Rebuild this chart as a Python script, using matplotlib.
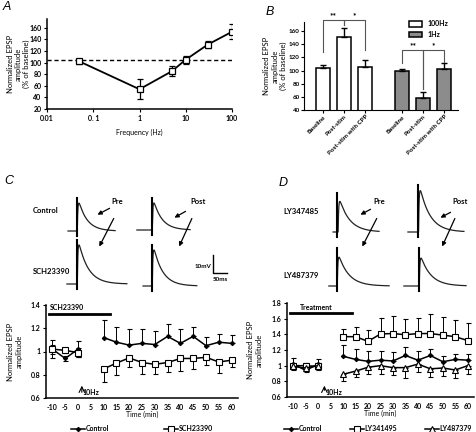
import numpy as np
import matplotlib as mpl
mpl.use("Agg")
import matplotlib.pyplot as plt  # noqa
from matplotlib.patches import FancyArrowPatch, Patch  # noqa
from matplotlib.lines import Line2D  # noqa

plt.rcParams['font.family'] = ['Lato', 'DejaVu Sans']
plt.rcParams['font.weight'] = 'bold'
plt.rcParams['axes.unicode_minus'] = False

# ---- panel A: frequency dependence
freq = [0.05, 1, 5, 10, 30, 100]
freq_mean = [102, 54, 85, 105, 131, 153]
freq_err = [4, 17, 9, 7, 6, 13]
baseline_level = 104

# ---- panel B: bars
bar_labels = ['Baseline', 'Post-stim', 'Post-stim with CPP']
hz100_mean = [104, 151, 105]
hz100_err = [5, 14, 11]
hz1_mean = [100, 59, 102]
hz1_err = [3, 9, 10]

# ---- panels C/D: time course
t_pre = [-10, -5, 0]
t_post = [10, 15, 20, 25, 30, 35, 40, 45, 50, 55, 60]
ctrl_pre = [1.02, 0.94, 1.02]
ctrl_pre_err = [0.075, 0.02, 0.07]
ctrl_post = [1.12, 1.08, 1.055, 1.07, 1.06, 1.13, 1.07, 1.13, 1.05, 1.08, 1.07]
ctrl_post_err = [0.15, 0.13, 0.135, 0.12, 0.115, 0.11, 0.12, 0.08, 0.075, 0.07, 0.075]
sch_pre = [1.02, 1.01, 0.99]
sch_pre_err = [0.04, 0.02, 0.04]
sch_post = [0.85, 0.90, 0.945, 0.905, 0.89, 0.905, 0.94, 0.94, 0.95, 0.91, 0.925]
sch_post_err = [0.11, 0.10, 0.08, 0.095, 0.085, 0.085, 0.105, 0.09, 0.07, 0.095, 0.055]
ly34_pre = [1.00, 1.00, 0.99]
ly34_pre_err = [0.03, 0.03, 0.03]
ly34_post = [1.37, 1.37, 1.31, 1.405, 1.41, 1.395, 1.41, 1.41, 1.39, 1.37, 1.32]
ly34_post_err = [0.10, 0.12, 0.15, 0.20, 0.22, 0.20, 0.20, 0.25, 0.23, 0.21, 0.23]
ly48_pre = [0.99, 0.97, 1.00]
ly48_pre_err = [0.03, 0.03, 0.03]
ly48_post = [0.89, 0.93, 0.98, 1.00, 0.975, 0.975, 1.02, 0.96, 0.97, 0.945, 1.00]
ly48_post_err = [0.08, 0.08, 0.09, 0.10, 0.10, 0.13, 0.10, 0.10, 0.10, 0.10, 0.10]

# ---- example traces (amplitude mV, decay ms, start ms, end ms)
trace_amp_C = [15.5, 15.0, 21.7, 20.0]
trace_tau_C = [30, 30, 34, 32]
trace_start_C = [-32, -54, -36, -32]
trace_end_C = [136, 136, 178, 160]
trace_amp_D = [17.0, 23.0, 16.0, 15.5]
trace_tau_D = [36, 36, 36, 36]
trace_start_D = [-14, -36, -29, -54]
trace_end_D = [150, 164, 186, 168]

W, H = 476, 432
fig = plt.figure(figsize=(W / 100, H / 100), dpi=100)


def box(x0, y0, x1, y1):
    return [x0 / W, 1 - y1 / H, (x1 - x0) / W, (y1 - y0) / H]


def fp(x, y):
    return (x / W, 1 - y / H)


def style(ax):
    for s in ['top', 'right']:
        ax.spines[s].set_visible(False)
    for s in ['left', 'bottom']:
        ax.spines[s].set_linewidth(1.1)
    ax.tick_params(labelsize=5, width=0.8, length=2.5, pad=1.5)


def panel_label(x, y, s):
    fig.text(*fp(x, y), s, fontsize=9, style='italic', family='Liberation Sans',
             fontweight='normal', ha='left', va='center')


# ---------- A
axA = fig.add_axes(box(47, 19, 232, 109))
style(axA)
axA.set_xscale('log')
axA.errorbar(freq, freq_mean, yerr=freq_err, color='k', lw=1.3, marker='s',
             ms=4, mfc='white', mec='k', mew=0.9, capsize=2, elinewidth=0.9)
axA.axhline(baseline_level, color='k', ls='--', lw=1.0, dashes=(3, 2))
axA.set_xlim(0.01, 100)
axA.set_ylim(20, 175)
axA.set_yticks(range(20, 161, 20))
axA.set_xticks([0.01, 0.1, 1, 10, 100])
axA.set_xticklabels(['0.01', '0. 1', '1', '10', '100'])
axA.minorticks_off()
axA.set_xlabel('Frequency (Hz)', fontsize=5, labelpad=5)
axA.set_ylabel('Normalized EPSP\namplitude\n(% of baseline)', fontsize=5.5)
axA.yaxis.set_label_coords(-0.09, 0.5)
panel_label(3, 7, 'A')

# ---------- B
axB = fig.add_axes(box(304, 22, 458, 110))
for s in ['top', 'right']:
    axB.spines[s].set_visible(False)
axB.tick_params(labelsize=4.5, width=0.8, length=2, pad=1)
pos100 = [0, 1, 2]
pos1 = [3.75, 4.75, 5.75]
axB.bar(pos100, hz100_mean, width=0.67, color='white', edgecolor='k', lw=1.1)
axB.errorbar(pos100, hz100_mean, yerr=[[0] * 3, hz100_err], fmt='none', ecolor='k',
             elinewidth=1.0, capsize=2.5, capthick=1.0)
axB.bar(pos1, hz1_mean, width=0.67, color='#8c8c8c', edgecolor='k', lw=1.1)
axB.errorbar(pos1, hz1_mean, yerr=[[0] * 3, hz1_err], fmt='none', ecolor='k',
             elinewidth=1.0, capsize=2.5, capthick=1.0)
axB.set_xlim(-0.9, 6.4)
axB.set_ylim(40, 174)
axB.set_yticks(range(40, 161, 20))
axB.set_xticks(pos100 + pos1)
axB.set_xticklabels(bar_labels * 2, rotation=45, ha='right', rotation_mode='anchor',
                    fontsize=4.5)
axB.set_ylabel('Normalized EPSP\namplitude\n(% of baseline)', fontsize=5.5)
axB.yaxis.set_label_coords(-0.11, 0.5)


def bracket(ax, x0, x1, y0, y1, top, txt):
    ax.plot([x0, x0, x1, x1], [y0, top, top, y1], color='#555555', lw=0.8, clip_on=False)
    ax.text((x0 + x1) / 2, top + 1, txt, ha='center', va='bottom', fontsize=6,
            clip_on=False)


bracket(axB, 0, 1, 128, 170, 177, '**')
bracket(axB, 1, 2, 170, 131, 177, '*')
bracket(axB, 3.75, 4.75, 111, 72, 131, '**')
bracket(axB, 4.75, 5.75, 72, 113, 131, '*')
axB.legend(handles=[Patch(facecolor='white', edgecolor='k', lw=1.1, label='100Hz'),
                    Patch(facecolor='#8c8c8c', edgecolor='k', lw=1.1, label='1Hz')],
           loc='upper left', bbox_to_anchor=fp(406, 17), bbox_transform=fig.transFigure,
           frameon=False, fontsize=5, handlelength=1.8, handleheight=0.8,
           labelspacing=0.5, borderpad=0, handletextpad=0.8)
panel_label(266, 12, 'B')


# ---------- traces
def trace(x_art, y_base, amp, tau, t0, t1, delay=1.0, extra=3.0):
    ax = fig.add_axes(box(x_art - 16.8, y_base - 54, x_art + 56, y_base + 9))
    ax.set_xlim(-60, 200)
    ax.set_ylim(-5, 30)
    ax.axis('off')
    t = np.linspace(t0, t1, 500)
    s = np.clip(t - delay, 0, None)
    tr = 2.0
    tp = np.log(tau / tr) * tau * tr / (tau - tr)
    norm = np.exp(-tp / tau) - np.exp(-tp / tr)
    v = amp * (np.exp(-s / tau) - np.exp(-s / tr)) / norm
    ax.plot(t, v, color='#222222', lw=0.9)
    ax.plot([0, 0], [-3, amp + extra], color='k', lw=1.5)
    return ax


def arrow(p0, p1):
    fig.add_artist(FancyArrowPatch(fp(*p0), fp(*p1), transform=fig.transFigure,
                                   arrowstyle='-|>', mutation_scale=6, lw=0.9, color='k'))


# C traces
trace(77, 231, trace_amp_C[0], trace_tau_C[0], trace_start_C[0], trace_end_C[0])
trace(152, 230, trace_amp_C[1], trace_tau_C[1], trace_start_C[1], trace_end_C[1])
trace(77, 284, trace_amp_C[2], trace_tau_C[2], trace_start_C[2], trace_end_C[2])
axs = trace(152, 286, trace_amp_C[3], trace_tau_C[3], trace_start_C[3], trace_end_C[3])
axs.plot([218, 218, 268], [17.2, 7.2, 7.2], color='k', lw=1.0, clip_on=False)
axs.text(212, 11, '10mV', fontsize=4.5, ha='right', va='center', clip_on=False)
axs.text(245, 5, '50ms', fontsize=4.5, ha='center', va='top', clip_on=False)
fig.text(*fp(33, 210), 'Control', fontsize=5.5, va='center')
fig.text(*fp(33, 272), 'SCH23390', fontsize=5.5, va='center')
fig.text(*fp(111, 201), 'Pre', fontsize=5.5, va='center')
fig.text(*fp(190, 201), 'Post', fontsize=5.5, va='center')
arrow((112, 207), (95, 216))
arrow((115, 216), (98, 249))
arrow((188, 210), (172, 219))
arrow((193, 216), (178, 249))
panel_label(4, 181, 'C')

# D traces
trace(337, 232, trace_amp_D[0], trace_tau_D[0], trace_start_D[0], trace_end_D[0],
      delay=4, extra=4.4)
trace(418, 232, trace_amp_D[1], trace_tau_D[1], trace_start_D[1], trace_end_D[1], delay=2)
trace(337, 286, trace_amp_D[2], trace_tau_D[2], trace_start_D[2], trace_end_D[2],
      extra=5)
trace(419, 286, trace_amp_D[3], trace_tau_D[3], trace_start_D[3], trace_end_D[3],
      extra=5.5)
fig.text(*fp(283, 211), 'LY347485', fontsize=5.5, va='center')
fig.text(*fp(283, 275), 'LY487379', fontsize=5.5, va='center')
fig.text(*fp(373, 202), 'Pre', fontsize=5.5, va='center')
fig.text(*fp(452, 202), 'Post', fontsize=5.5, va='center')
arrow((373, 208), (358, 216))
arrow((378, 216), (361, 249))
arrow((453, 211), (438, 219))
arrow((456, 216), (441, 249))
panel_label(279, 183, 'D')


# ---------- time courses
def series(ax, pre, pre_err, post, post_err, marker, ms, fill, post_side, label):
    kw = dict(color='k', lw=1.1, marker=marker, ms=ms, mfc=fill, mec='k', mew=0.8,
              capsize=1.8, elinewidth=0.7, capthick=0.7)
    ax.errorbar(t_pre, pre, yerr=pre_err, **kw)
    z = [0] * len(post)
    yerr = [z, post_err] if post_side == 'up' else [post_err, z]
    ax.errorbar(t_post, post, yerr=yerr, **kw)
    return Line2D([], [], color='k', lw=1.1, marker=marker, ms=ms, mfc=fill, mec='k',
                  mew=0.8, label=label)


def course_axes(rect, ylim, yticks, yticklabels, label_x):
    ax = fig.add_axes(rect)
    style(ax)
    ax.set_xlim(-12.5, 62.5)
    ax.set_xticks(range(-10, 61, 5))
    ax.tick_params(axis='x', length=0, pad=4)
    ax.set_ylim(*ylim)
    ax.set_yticks(yticks)
    ax.set_yticklabels(yticklabels)
    ax.set_xlabel('Time (min)', fontsize=5, labelpad=0.5)
    ax.set_ylabel('Normalized EPSP\namplitude', fontsize=5.5)
    ax.yaxis.set_label_coords(label_x, 0.5)
    return ax


axC = course_axes(box(46, 305, 238, 398), (0.6, 1.4), [0.6, 0.8, 1.0, 1.2, 1.4],
                  ['0.6', '0.8', '1', '1.2', '1.4'], -0.122)
h1 = series(axC, ctrl_pre, ctrl_pre_err, ctrl_post, ctrl_post_err, 'D', 2.2, 'k', 'up',
            'Control')
h2 = series(axC, sch_pre, sch_pre_err, sch_post, sch_post_err, 's', 4, 'white', 'down',
            'SCH23390')
axC.plot([-11.2, 12.4], [1.32, 1.32], color='k', lw=2.0, clip_on=False)
axC.text(-4.5, 1.345, 'SCH23390', fontsize=5, ha='center', va='bottom')
axC.annotate('', xy=(1.5, 0.73), xytext=(1.5, 0.625),
             arrowprops=dict(arrowstyle='->', lw=0.8, color='k'))
axC.text(1.8, 0.615, '10Hz', fontsize=5, ha='left', va='bottom')
axC.legend(handles=[h1, h2], loc='upper center', bbox_to_anchor=fp(142, 422),
           bbox_transform=fig.transFigure, ncol=2,
           frameon=False, fontsize=5, handlelength=2, columnspacing=8, borderpad=0,
           handletextpad=0.1)

axD = course_axes(box(287, 303, 474, 397), (0.6, 1.8),
                  [0.6, 0.8, 1.0, 1.2, 1.4, 1.6, 1.8],
                  ['0.6', '0.8', '1', '1.2', '1.4', '1.6', '1.8'], -0.13)
g1 = series(axD, ctrl_pre, ctrl_pre_err, ctrl_post, ctrl_post_err, 'D', 2.2, 'k', 'up',
            'Control')
g2 = series(axD, ly34_pre, ly34_pre_err, ly34_post, ly34_post_err, 's', 4, 'white', 'up',
            'LY341495')
g3 = series(axD, ly48_pre, ly48_pre_err, ly48_post, ly48_post_err, '^', 4, 'white',
            'down', 'LY487379')
axD.plot([-11.2, 13.6], [1.67, 1.67], color='k', lw=2.0, clip_on=False)
axD.text(-0.8, 1.70, 'Treatment', fontsize=5, ha='center', va='bottom')
axD.annotate('', xy=(2.5, 0.78), xytext=(2.5, 0.65),
             arrowprops=dict(arrowstyle='->', lw=0.8, color='k'))
axD.text(2.8, 0.61, '10Hz', fontsize=5, ha='left', va='bottom')
axD.legend(handles=[g1, g2, g3], loc='upper center', bbox_to_anchor=fp(378, 422),
           bbox_transform=fig.transFigure, ncol=3,
           frameon=False, fontsize=5, handlelength=2, columnspacing=4, borderpad=0,
           handletextpad=0.1)

fig.savefig('out.png', dpi=100)
